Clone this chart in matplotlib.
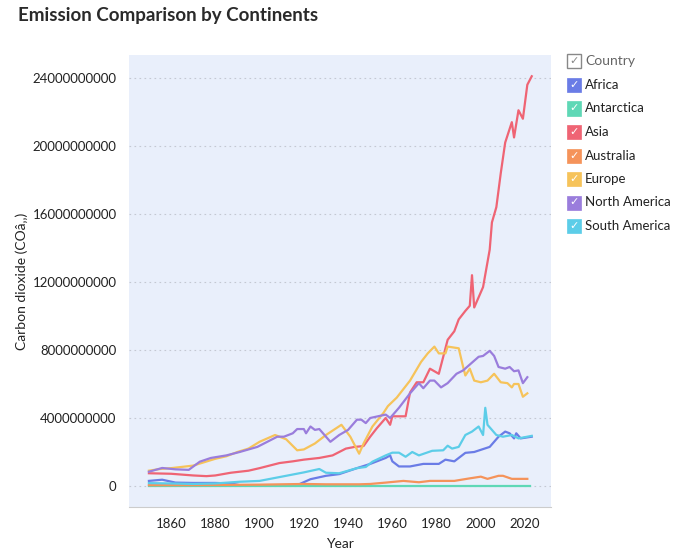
import matplotlib
matplotlib.use("Agg")
import matplotlib.pyplot as plt
from matplotlib.patches import Rectangle

plt.rcParams['font.family'] = ['Lato', 'DejaVu Sans']

# emissions in billions of tonnes
africa_years = [1850, 1856, 1862, 1870, 1880, 1887, 1891, 1900, 1910, 1917, 1923, 1930, 1936, 1944,
                1950, 1957, 1959, 1960, 1963, 1968, 1974, 1981, 1984, 1988, 1993, 1997, 2004, 2008,
                2011, 2013, 2015, 2016, 2018, 2023]
africa = [0.3, 0.37, 0.2, 0.18, 0.18, 0.15, 0.05, 0.05, 0.05, 0.05, 0.4, 0.6, 0.7, 1.05,
          1.3, 1.65, 1.8, 1.45, 1.15, 1.15, 1.3, 1.3, 1.55, 1.45, 1.95, 2.0, 2.3, 2.9,
          3.2, 3.1, 2.8, 3.1, 2.8, 2.9]

antarctica_years = [1850, 2022]
antarctica = [0.0, 0.0]

asia_years = [1850, 1860, 1870, 1876, 1880, 1887, 1895, 1900, 1909, 1915, 1920, 1927, 1933, 1939,
              1943, 1947, 1950, 1953, 1957, 1959, 1960, 1966, 1968, 1971, 1974, 1977, 1981, 1985,
              1988, 1990, 1993, 1995, 1996, 1997, 2001, 2004, 2005, 2007, 2009, 2011, 2014, 2015,
              2017, 2019, 2021, 2023]
asia = [0.75, 0.72, 0.62, 0.58, 0.62, 0.78, 0.9, 1.05, 1.35, 1.45, 1.55, 1.65, 1.8, 2.2,
        2.3, 2.35, 2.9, 3.4, 4.0, 3.6, 4.1, 4.1, 5.5, 6.1, 6.1, 6.9, 6.6, 8.6,
        9.1, 9.8, 10.3, 10.6, 12.4, 10.5, 11.7, 13.9, 15.5, 16.4, 18.4, 20.2, 21.4, 20.5,
        22.1, 21.6, 23.6, 24.1]

australia_years = [1850, 1870, 1900, 1920, 1930, 1945, 1950, 1957, 1965, 1972, 1977, 1988, 1995,
                   2000, 2003, 2008, 2010, 2014, 2021]
australia = [0.05, 0.05, 0.08, 0.12, 0.1, 0.1, 0.12, 0.2, 0.3, 0.22, 0.3, 0.3, 0.45,
             0.55, 0.42, 0.6, 0.6, 0.42, 0.42]

europe_years = [1850, 1855, 1860, 1870, 1880, 1885, 1890, 1895, 1900, 1907, 1912, 1917, 1920, 1925,
                1930, 1937, 1941, 1945, 1947, 1951, 1956, 1958, 1962, 1968, 1973, 1976, 1979, 1981,
                1984, 1985, 1990, 1992, 1993, 1995, 1997, 2000, 2003, 2006, 2009, 2012, 2014, 2015,
                2017, 2019, 2021]
europe = [0.9, 1.0, 1.05, 1.2, 1.6, 1.75, 2.0, 2.2, 2.6, 3.0, 2.75, 2.1, 2.15, 2.5,
          3.0, 3.6, 2.9, 1.9, 2.5, 3.5, 4.3, 4.7, 5.2, 6.2, 7.3, 7.8, 8.2, 7.8,
          7.8, 8.2, 8.1, 7.0, 6.5, 6.9, 6.2, 6.1, 6.2, 6.6, 6.1, 6.05, 5.8, 6.0,
          6.0, 5.25, 5.45]

north_america_years = [1850, 1856, 1862, 1868, 1873, 1878, 1885, 1891, 1899, 1908, 1911, 1915, 1917,
                       1920, 1921, 1923, 1925, 1927, 1932, 1936, 1940, 1944, 1946, 1948, 1950, 1957,
                       1959, 1963, 1968, 1972, 1974, 1977, 1979, 1982, 1985, 1989, 1992, 1999, 2001,
                       2004, 2006, 2008, 2011, 2013, 2015, 2017, 2019, 2021]
north_america = [0.84, 1.06, 0.98, 0.95, 1.43, 1.65, 1.8, 2.0, 2.3, 2.9, 2.9, 3.1, 3.35,
                 3.35, 3.1, 3.5, 3.3, 3.35, 2.6, 3.0, 3.3, 3.9, 3.9, 3.7, 4.0, 4.2,
                 4.0, 4.6, 5.45, 6.05, 5.75, 6.2, 6.2, 5.8, 6.05, 6.6, 6.8, 7.6, 7.65,
                 7.95, 7.65, 7.0, 6.9, 7.0, 6.75, 6.8, 6.05, 6.4]

south_america_years = [1850, 1860, 1870, 1880, 1891, 1900, 1906, 1914, 1920, 1927, 1930, 1936, 1944,
                       1948, 1951, 1957, 1960, 1963, 1966, 1969, 1972, 1978, 1983, 1985, 1987, 1990,
                       1993, 1996, 1999, 2001, 2002, 2003, 2007, 2010, 2014, 2017, 2023]
south_america = [0.17, 0.15, 0.12, 0.15, 0.25, 0.3, 0.45, 0.65, 0.8, 1.0, 0.78, 0.75, 1.05,
                 1.12, 1.43, 1.8, 1.96, 1.96, 1.72, 2.0, 1.8, 2.07, 2.1, 2.37, 2.2, 2.3,
                 3.0, 3.2, 3.5, 3.0, 4.6, 3.6, 3.0, 2.9, 3.0, 2.8, 2.95]

names = ['Africa', 'Antarctica', 'Asia', 'Australia', 'Europe', 'North America', 'South America']
colors = ['#6a7ce6', '#5fd8b6', '#ef6474', '#f5935a', '#f6c35a', '#9a7ddc', '#5ccde8']
series = [(africa_years, africa), (antarctica_years, antarctica), (asia_years, asia),
          (australia_years, australia), (europe_years, europe),
          (north_america_years, north_america), (south_america_years, south_america)]

y_ticks = [0, 4e9, 8e9, 12e9, 16e9, 20e9, 24e9]
x_ticks = [1860, 1880, 1900, 1920, 1940, 1960, 1980, 2000, 2020]

fig = plt.figure(figsize=(6.8, 5.54), dpi=100)
ax = fig.add_axes([129 / 680, 1 - 507 / 554, 422 / 680, 452 / 554])
ax.set_facecolor('#e9effb')

for (yrs, vals), c in zip(series, colors):
    ax.plot(yrs, [v * 1e9 for v in vals], color=c, lw=1.6, solid_joinstyle='round')

ax.set_xlim(1841, 2031.7)
ax.set_ylim(-1.235e9, 25.35e9)
ax.set_yticks(y_ticks)
ax.set_yticklabels([str(int(t)) for t in y_ticks])
ax.set_xticks(x_ticks)
ax.set_xticklabels([str(t) for t in x_ticks])
ax.tick_params(length=0, labelsize=9.5, colors='#222222', pad=9)
ax.tick_params(axis='x', pad=8)
ax.grid(axis='y', color='#c4c8d2', linestyle=(0, (1.5, 3)), linewidth=0.8)
for s in ['top', 'right', 'left']:
    ax.spines[s].set_visible(False)
ax.spines['bottom'].set_color('#cccccc')
ax.set_axisbelow(True)

ax.set_xlabel('Year', fontsize=10, color='#222222', labelpad=6)
ax.set_ylabel('Carbon dioxide (COâ‚‚)', fontsize=10, color='#222222', labelpad=3)
fig.text(18 / 680, 1 - 16 / 554, 'Emission Comparison by Continents', fontsize=13.5,
         fontweight='bold', color='#2a2a2a', va='center', ha='left')

# legend with checkbox style
box = 14
lx = 567
fig.patches.append(Rectangle((lx / 680, 1 - (61 + box / 2) / 554), box / 680, box / 554,
                             transform=fig.transFigure, facecolor='white', edgecolor='#888888', lw=1))
fig.text((lx + box / 2) / 680, 1 - 61 / 554, '✓', fontsize=8, color='#888888',
         ha='center', va='center', family=['DejaVu Sans'])
fig.text((lx + box + 4) / 680, 1 - 61 / 554, 'Country', fontsize=10, color='#666666', va='center')
for i, (n, c) in enumerate(zip(names, colors)):
    yc = 85 + i * 23.5
    fig.patches.append(Rectangle((lx / 680, 1 - (yc + box / 2) / 554), box / 680, box / 554,
                                 transform=fig.transFigure, facecolor=c, edgecolor=c, lw=0.5))
    fig.text((lx + box / 2) / 680, 1 - yc / 554, '✓', fontsize=8, color='white',
             ha='center', va='center', family=['DejaVu Sans'])
    fig.text((lx + box + 4) / 680, 1 - yc / 554, n, fontsize=9.5, color='#222222', va='center')

fig.savefig('out.png', dpi=100)
